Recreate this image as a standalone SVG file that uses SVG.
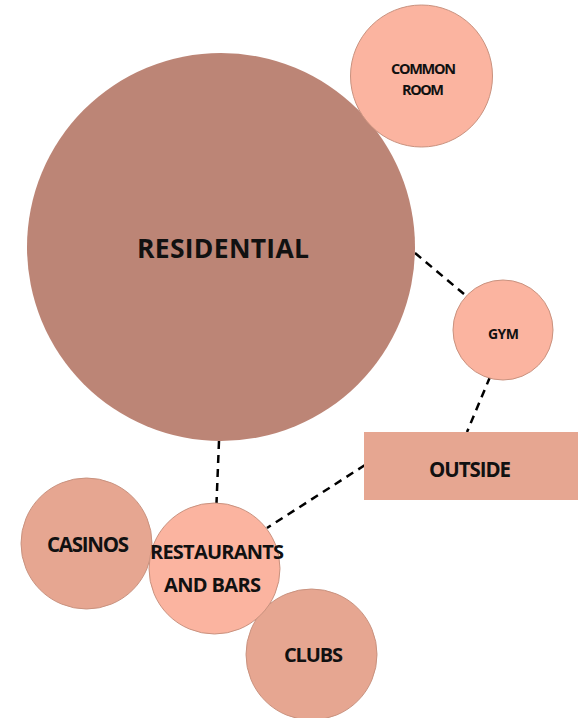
<svg xmlns="http://www.w3.org/2000/svg" width="585" height="718" viewBox="0 0 585 718">
<style>
.t{font-family:"Open Sans","Liberation Sans",sans-serif;font-weight:bold;fill:#111;text-anchor:middle}
.res{fill:#BC8576}
.lt{fill:#FBB4A0;stroke:#C9927F;stroke-width:1}
.md{fill:#E6A691;stroke:#C9927F;stroke-width:1}
.c{stroke:#000;stroke-width:2.5;stroke-dasharray:8 6;fill:none}
</style>
<rect width="585" height="718" fill="#fff"/>
<g id="connectors">
<line class="c" x1="415" y1="253" x2="464" y2="294"/>
<line class="c" x1="490" y1="377" x2="467" y2="432"/>
<line class="c" x1="219" y1="441" x2="216.5" y2="503"/>
<line class="c" x1="365" y1="465" x2="267" y2="528"/>
</g>
<g id="residential">
<circle class="res" cx="221" cy="247" r="194"/>
<text class="t" x="223" y="258" font-size="26.5" textLength="172" lengthAdjust="spacing">RESIDENTIAL</text>
</g>
<g id="common-room">
<circle class="lt" cx="421.5" cy="76" r="71"/>
<text class="t" x="423.5" y="74" font-size="14.5" textLength="65" lengthAdjust="spacing">COMMON</text>
<text class="t" x="423" y="95" font-size="14.5" textLength="42" lengthAdjust="spacing">ROOM</text>
</g>
<g id="gym">
<circle class="lt" cx="503" cy="330" r="50"/>
<text class="t" x="503.5" y="339" font-size="14" textLength="31" lengthAdjust="spacing">GYM</text>
</g>
<g id="outside">
<rect x="364" y="432" width="214" height="68" fill="#E6A691"/>
<text class="t" x="470" y="477" font-size="20.5" textLength="82" lengthAdjust="spacing">OUTSIDE</text>
</g>
<g id="casinos">
<circle class="md" cx="86.5" cy="543.5" r="65.5"/>
<text class="t" x="88" y="552" font-size="20.5" textLength="82" lengthAdjust="spacing">CASINOS</text>
</g>
<g id="clubs">
<circle class="md" cx="311.5" cy="654.5" r="65.5"/>
<text class="t" x="313.5" y="662" font-size="20" textLength="59" lengthAdjust="spacing">CLUBS</text>
</g>
<g id="restaurants-and-bars">
<circle class="lt" cx="214.5" cy="568.5" r="65.5"/>
<text class="t" x="217" y="559" font-size="20" textLength="134" lengthAdjust="spacing">RESTAURANTS</text>
<text class="t" x="212.5" y="592" font-size="20" textLength="97" lengthAdjust="spacing">AND BARS</text>
</g>
</svg>
